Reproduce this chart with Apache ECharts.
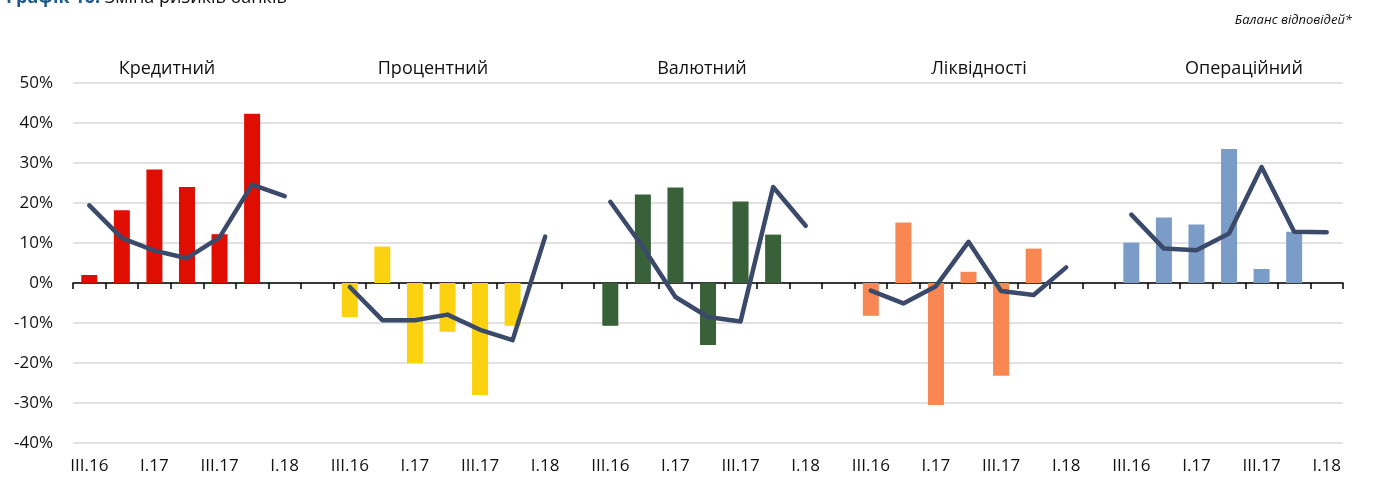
<!DOCTYPE html>
<html>
<head>
<meta charset="utf-8">
<script src="https://cdn.jsdelivr.net/npm/echarts@6/dist/echarts.min.js"></script>
<style>
  html, body { margin: 0; padding: 0; background: #fff; }
  #chart { width: 1378px; height: 477px; }
</style>
</head>
<body>
<div id="chart"></div>
<script>
const quarters = ['III.16', 'IV.16', 'I.17', 'II.17', 'III.17', 'IV.17', 'I.18'];
const groupNames = ['Кредитний', 'Процентний', 'Валютний', 'Ліквідності', 'Операційний'];
const groupColors = ['#e00e00', '#fad20f', '#38613a', '#f88753', '#7c9cc8'];

// bars: III.16 .. IV.17, line: III.16 .. I.18
const creditBars = [2.0, 18.2, 28.4, 24.0, 12.2, 42.3];
const creditLine = [19.4, 11.2, 8.1, 6.2, 11.4, 24.6, 21.7];
const interestBars = [-8.5, 9.1, -20.0, -12.2, -28.0, -10.7];
const interestLine = [-1.0, -9.3, -9.3, -7.9, -11.7, -14.3, 11.6];
const currencyBars = [-10.7, 22.1, 23.9, -15.5, 20.4, 12.1];
const currencyLine = [20.3, 9.0, -3.5, -8.5, -9.6, 24.0, 14.3];
const liquidityBars = [-8.2, 15.1, -30.5, 2.8, -23.2, 8.6];
const liquidityLine = [-1.9, -5.1, -0.8, 10.3, -2.0, -3.0, 3.9];
const operBars = [10.1, 16.4, 14.6, 33.5, 3.5, 12.8];
const operLine = [17.1, 8.6, 8.2, 12.4, 29.0, 12.8, 12.7];

const yTicks = { min: -40, max: 50, step: 10 };

const barGroups = [creditBars, interestBars, currencyBars, liquidityBars, operBars];
const lineGroups = [creditLine, interestLine, currencyLine, liquidityLine, operLine];

// 7 quarters per group + one empty gap between groups
const categories = [];
const barData = [];
const lineData = [];
barGroups.forEach((bars, g) => {
  quarters.forEach((q, i) => {
    categories.push(q);
    barData.push(i < bars.length ? { value: bars[i], itemStyle: { color: groupColors[g] } } : null);
    lineData.push(lineGroups[g][i]);
  });
  if (g < barGroups.length - 1) {
    categories.push('');
    barData.push(null);
    lineData.push(null);
  }
});

const font = '"Open Sans", "Noto Sans", sans-serif';
const titleX = [167, 433, 702, 979, 1244];

const chart = echarts.init(document.getElementById('chart'));
chart.setOption({
  animation: false,
  textStyle: { fontFamily: font },
  graphic: [
    {
      type: 'text', left: 6, top: -11,
      style: {
        text: '{b|Графік 16.} Зміна ризиків банків',
        rich: { b: { fontWeight: 'bold', fill: '#1f5a8c', fontSize: 18, fontFamily: font } },
        fontSize: 18, fill: '#111', fontFamily: font
      }
    },
    {
      type: 'text', right: 26, top: 14,
      style: { text: 'Баланс відповідей*', fontSize: 13, fontStyle: 'italic', fill: '#111', fontFamily: font }
    }
  ].concat(groupNames.map((name, i) => ({
    type: 'text', x: titleX[i], y: 60,
    style: { text: name, fontSize: 18, fill: '#111', align: 'center', fontFamily: font }
  }))),
  grid: { left: 73, right: 35, top: 83, bottom: 34, containLabel: false },
  xAxis: [
    {
      type: 'category',
      data: categories,
      boundaryGap: true,
      axisLine: { onZero: true, lineStyle: { color: '#000', width: 1.5 } },
      axisTick: { show: true, interval: 0, length: 6, lineStyle: { color: '#000', width: 1.5 } },
      axisLabel: { show: false },
      splitLine: { show: false }
    },
    {
      type: 'category',
      data: categories,
      position: 'bottom',
      axisLine: { show: false, onZero: false },
      axisTick: { show: false },
      axisLabel: { interval: 1, fontSize: 17, color: '#111', margin: 15 }
    }
  ],
  yAxis: {
    type: 'value',
    min: yTicks.min,
    max: yTicks.max,
    interval: yTicks.step,
    axisLine: { show: false },
    axisTick: { show: false },
    axisLabel: { formatter: '{value}%', fontSize: 17, color: '#111', margin: 20 },
    splitLine: { lineStyle: { color: '#d9d9d9', width: 1.5 } }
  },
  series: [
    {
      type: 'bar',
      data: barData,
      barWidth: 16,
      xAxisIndex: 0
    },
    {
      type: 'line',
      data: lineData,
      xAxisIndex: 0,
      symbol: 'none',
      connectNulls: false,
      lineStyle: { color: '#3b4a6b', width: 4.5, cap: 'round', join: 'round' },
      z: 5
    }
  ]
});
</script>
</body>
</html>
